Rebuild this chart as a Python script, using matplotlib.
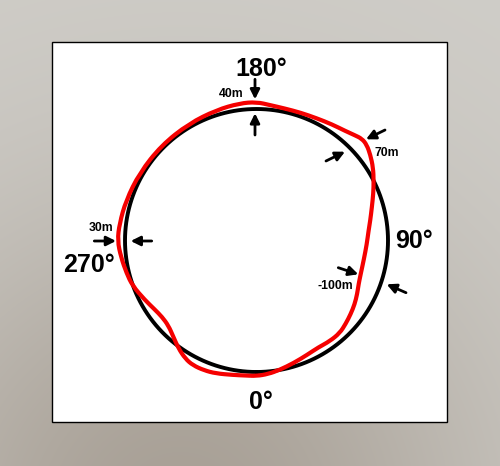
import numpy as np
import matplotlib
matplotlib.use('Agg')
import matplotlib.pyplot as plt
from matplotlib.patches import Rectangle, PathPatch
from matplotlib.path import Path

# base circle radius (same units as the red trace)
base_radius = 131.5

# red trace: angle (degrees, 0 at bottom, counter-clockwise) and radius
red_angle = [0, 5, 10, 17, 24, 30, 36, 42, 47, 52, 57, 62, 67, 72, 80, 88,
             95, 100, 106, 112, 117, 122, 127, 131, 134, 137, 141, 147, 154,
             161, 168, 174, 180, 187, 197, 210, 225, 240, 253, 263, 270, 277,
             284, 290, 298, 304, 309, 314, 319, 324, 329, 333, 338, 343, 350,
             355]
red_radius = [135.5, 134, 131.5, 128, 125, 123.5, 124.5, 124.5, 122, 119.5,
              117, 114, 111, 109.5, 109, 110.3, 112.5, 115.5, 120, 126, 131.5,
              137.5, 142.5, 146, 146.5, 144, 141, 138.5, 136.2, 135.2, 135,
              136, 138.5, 138.2, 136.5, 135, 134.5, 135, 136.5, 138, 139,
              136.5, 134, 132, 126.5, 123, 121.5, 122.5, 127, 133, 138, 140,
              140, 139, 136.5, 135.5]

# direction labels and deviation labels
dir_labels = ['0°', '90°', '180°', '270°']
dev_labels = ['40m', '70m', '30m', '-100m']

W, H = 500, 466
cx, cy = 256.5, 240.5

fig = plt.figure(figsize=(W / 100, H / 100), dpi=100)

# grey background with a darker patch toward the bottom
bg = fig.add_axes([0, 0, 1, 1])
yy, xx = np.mgrid[0:H, 0:W]
w = np.exp(-((xx - 180) ** 2 + (yy - 520) ** 2) / (2 * 230.0 ** 2))
light = np.array([208, 206, 201]) / 255
dark = np.array([168, 160, 150]) / 255
img = light[None, None, :] * (1 - w[..., None]) + dark[None, None, :] * w[..., None]
bg.imshow(img, aspect='auto', extent=[0, W, H, 0])
bg.axis('off')

# main axes: centre of circle at (0, 0)
ax = fig.add_axes([0, 0, 1, 1])
ax.set_xlim(-cx, W - cx)
ax.set_ylim(-(H - cy), cy)
ax.axis('off')

# white box
ax.add_patch(Rectangle((52 - cx, cy - 422), 395, 380, facecolor='white',
                       edgecolor='black', lw=1.0, zorder=1))

# black reference circle
t = np.radians(np.arange(0, 361))
ax.plot(base_radius * np.sin(t), -base_radius * np.cos(t), color='black',
        lw=2.8, zorder=3, solid_capstyle='round')

# red trace, drawn as a smooth closed path through the read points
a = np.radians(red_angle)
r = np.array(red_radius)
px = r * np.sin(a)
py = -r * np.cos(a)
pts = np.column_stack([px, py])
nxt = np.roll(pts, -1, axis=0)
mids = (pts + nxt) / 2
verts = [mids[-1]]
codes = [Path.MOVETO]
for p, m in zip(pts, mids):
    verts += [p, m]
    codes += [Path.CURVE3, Path.CURVE3]
ax.add_patch(PathPatch(Path(verts, codes), facecolor='none',
                       edgecolor='#f50000', lw=3.0, zorder=4))

# big direction labels
big = dict(fontsize=18, fontweight='bold', family='Liberation Sans',
           ha='center', va='baseline', zorder=5)
ax.text(4.2, -168.8, dir_labels[0], **big)
ax.text(157.5, -7.8, dir_labels[1], **big)
ax.text(4.5, 164.5, dir_labels[2], **big)
ax.text(-167, -31.2, dir_labels[3], **big)

# small deviation labels
small = dict(fontsize=8.8, fontweight='bold', family='Liberation Sans',
             ha='center', va='baseline', zorder=5)
ax.text(-25, 143.2, dev_labels[0], **small)
ax.text(130, 84.5, dev_labels[1], **small)
ax.text(-156, 9.8, dev_labels[2], **small)
ax.text(79, -48.8, dev_labels[3], **small)

# arrows (tail, head)
arrows = [((-1.5, 161.2), (-1.5, 141.2)),
          ((-1.5, 105.5), (-1.5, 127.2)),
          ((128.5, 110.5), (109.5, 101.2)),
          ((69.5, 79.5), (88.5, 88.8)),
          ((-162.2, -0.5), (-140.5, -0.5)),
          ((-104.8, -0.5), (-125.8, -0.5)),
          ((81.8, -27.2), (101.8, -33.8)),
          ((149.5, -52.2), (130.2, -43.8))]
for tail, head in arrows:
    ax.annotate('', xy=head, xytext=tail,
                arrowprops=dict(arrowstyle='-|>', color='black', lw=2.0,
                                mutation_scale=14, shrinkA=0, shrinkB=0),
                zorder=5)

fig.savefig('out.png', dpi=100)
